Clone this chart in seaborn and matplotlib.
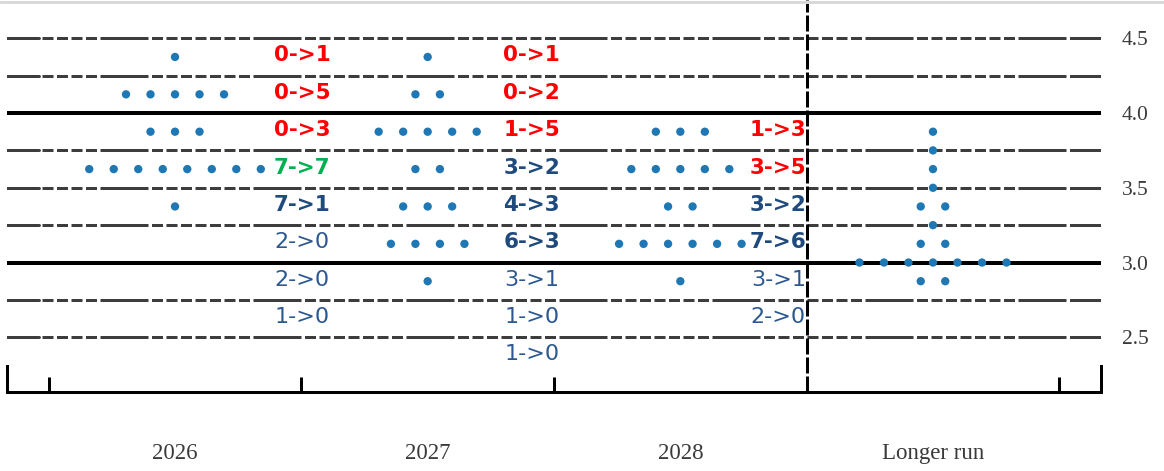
import numpy as np
import pandas as pd
import matplotlib.pyplot as plt
import seaborn as sns
from matplotlib.lines import Line2D

# Dot plot data
categories = ['2026', '2027', '2028', 'Longer run']

# (rate level, number of dots)
dots_2026 = [(4.375, 1), (4.125, 5), (3.875, 3), (3.625, 8), (3.375, 1)]
dots_2027 = [(4.375, 1), (4.125, 2), (3.875, 5), (3.625, 2), (3.375, 3),
             (3.125, 4), (2.875, 1)]
dots_2028 = [(3.875, 3), (3.625, 5), (3.375, 2), (3.125, 6), (2.875, 1)]
dots_longer = [(3.875, 1), (3.75, 1), (3.625, 1), (3.5, 1), (3.375, 2),
               (3.25, 1), (3.125, 2), (3.0, 7), (2.875, 2)]

# change annotations: (rate level, text, kind)
labels_2026 = [(4.375, '0->1', 'red'), (4.125, '0->5', 'red'), (3.875, '0->3', 'red'),
               (3.625, '7->7', 'green'), (3.375, '7->1', 'blue'),
               (3.125, '2->0', 'plain'), (2.875, '2->0', 'plain'), (2.625, '1->0', 'plain')]
labels_2027 = [(4.375, '0->1', 'red'), (4.125, '0->2', 'red'), (3.875, '1->5', 'red'),
               (3.625, '3->2', 'blue'), (3.375, '4->3', 'blue'), (3.125, '6->3', 'blue'),
               (2.875, '3->1', 'plain'), (2.625, '1->0', 'plain'), (2.375, '1->0', 'plain')]
labels_2028 = [(3.875, '1->3', 'red'), (3.625, '3->5', 'red'), (3.375, '3->2', 'blue'),
               (3.125, '7->6', 'blue'), (2.875, '3->1', 'plain'), (2.625, '2->0', 'plain')]

grid_levels = [4.5, 4.25, 4.0, 3.75, 3.5, 3.25, 3.0, 2.75, 2.5]
solid_levels = [4.0, 3.0]
ytick_values = [2.5, 3.0, 3.5, 4.0, 4.5]

# build dot table
rows = []
for ci, dots in enumerate([dots_2026, dots_2027, dots_2028, dots_longer]):
    for level, n in dots:
        for i in range(n):
            rows.append({'x': ci + (i - (n - 1) / 2) * 0.097, 'rate': level})
df = pd.DataFrame(rows)

sns.set_style('white')
plt.rcParams['font.family'] = ['DejaVu Sans']
plt.rcParams['lines.scale_dashes'] = False
px = 0.72  # points per pixel at dpi 100

fig = plt.figure(figsize=(11.64, 4.71), dpi=100)
ax = fig.add_axes([7 / 1164, 79 / 471, 1094 / 1164, 392 / 471])
ax.set_xlim(-0.665, 3.665)
ax.set_ylim(2.134, 4.756)

# horizontal lines
grid_dash = (60 * px, (48 * px, 3.5 * px) + (11 * px, 3.5 * px) * 7)
for lv in grid_levels:
    if lv in solid_levels:
        ax.axhline(lv, color='black', lw=4 * px, zorder=1)
    else:
        ax.axhline(lv, color='#3d3d3d', lw=3 * px, ls=grid_dash, zorder=1)
        ax.plot([-0.665, -0.54], [lv, lv], color='#3d3d3d', lw=3 * px, zorder=1)
        ax.plot([3.56, 3.665], [lv, lv], color='#3d3d3d', lw=3 * px, zorder=1)

# separator before longer run
ax.axvline(2.5, color='black', lw=3 * px, ls=(0, (16 * px, 3 * px)), zorder=1)

sns.scatterplot(data=df, x='x', y='rate', ax=ax, color='#1f77b4', s=36,
                marker='o', edgecolor='none', zorder=3, legend=False)

styles = {'red': ('#ff0000', 'bold'), 'green': ('#00b050', 'bold'),
          'blue': ('#1f4a7d', 'bold'), 'plain': ('#2c5890', 'normal')}
label_offset = [0.503, 0.412, 0.388]
for ci, labels in enumerate([labels_2026, labels_2027, labels_2028]):
    for level, txt, kind in labels:
        col, wt = styles[kind]
        ax.text(ci + label_offset[ci], level + 0.01, txt, color=col, fontweight=wt,
                fontsize=15.5 if wt == 'bold' else 16, ha='center', va='center', zorder=4)

# axes styling
ax.spines['top'].set_visible(False)
for side in ['bottom', 'left', 'right']:
    ax.spines[side].set_color('black')
    ax.spines[side].set_linewidth(3 * px)
ax.spines['left'].set_bounds(2.134, 2.134 + 26 / 149.5)
ax.spines['right'].set_bounds(2.134, 2.134 + 26 / 149.5)

ax.set_xticks(range(len(categories)))
ax.set_xticklabels(categories, fontfamily='Liberation Serif', fontsize=16.5, color='#3a3a3a')
ax.set_xticks([-0.5, 0.5, 1.5, 2.5, 3.5], minor=True)
ax.tick_params(axis='x', which='major', length=0, pad=37)
ax.tick_params(axis='x', which='minor', direction='in', length=15 * px,
               width=3 * px, color='black', bottom=True)

ax.yaxis.tick_right()
ax.set_yticks(ytick_values)
ax.set_yticklabels([f'{v:.1f}' for v in ytick_values], fontfamily='Liberation Serif',
                   fontsize=15.5, color='#3a3a3a')
ax.tick_params(axis='y', length=0, pad=15)
ax.set_xlabel('')
ax.set_ylabel('')

fig.add_artist(Line2D([0, 1], [1 - 1.5 / 471] * 2, color='#d9d9d9', lw=3 * px,
                      transform=fig.transFigure))

fig.savefig('out.png', dpi=100)
